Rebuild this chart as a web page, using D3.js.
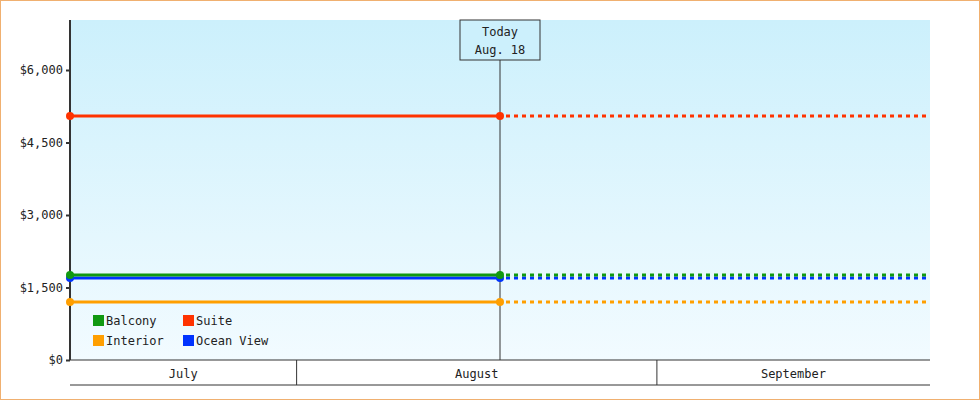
<!DOCTYPE html>
<html>
<head>
<script src="https://cdn.jsdelivr.net/npm/d3@7/dist/d3.min.js"></script>
<style>
body { margin:0; }
text { font-family: "DejaVu Sans Mono", monospace; font-size:12px; fill:#222; }
</style>
</head>
<body>
<script>
var seriesNames = ["Balcony", "Suite", "Interior", "Ocean View"];
var seriesColors = ["#119911", "#ff3300", "#ff9f00", "#0033ff"];
var seriesValues = [1759, 5049, 1200, 1697];
var startDate = new Date(2024, 6, 12, 12), todayDate = new Date(2024, 7, 18, 12), endDate = new Date(2024, 8, 24, 12);
var monthNames = ["July", "August", "September"];
var monthStarts = [new Date(2024, 6, 12, 12), new Date(2024, 7, 1), new Date(2024, 8, 1), new Date(2024, 8, 24, 12)];
var yTicks = [0, 1500, 3000, 4500, 6000];

var W = 980, H = 400, L = 70, R = 930, T = 20, B = 360;
var svg = d3.select("body").append("svg").attr("width", W).attr("height", H);
svg.append("rect").attr("x", 0.5).attr("y", 0.5).attr("width", W - 1).attr("height", H - 1)
  .attr("fill", "white").attr("stroke", "#f0b070");

var grad = svg.append("defs").append("linearGradient").attr("id", "bg").attr("x1", 0).attr("y1", 0).attr("x2", 0).attr("y2", 1);
grad.append("stop").attr("offset", "0%").attr("stop-color", "#ccf0fc");
grad.append("stop").attr("offset", "100%").attr("stop-color", "#f2fbff");

var x = d3.scaleTime().domain([startDate, endDate]).range([L, R]);
var y = d3.scaleLinear().domain([0, 6000]).range([B, 70]);

svg.append("rect").attr("x", L).attr("y", T).attr("width", R - L).attr("height", B - T).attr("fill", "url(#bg)");

// y axis
var ya = svg.append("g").attr("transform", "translate(" + L + ",0)")
  .call(d3.axisLeft(y).tickValues(yTicks).tickSize(4).tickFormat(function(d){ return "$" + d3.format(",")(d); }));
ya.select(".domain").remove();
ya.selectAll("line").attr("stroke", "#333").attr("stroke-width", 2);
ya.selectAll("text").style("font-family", "DejaVu Sans Mono").style("font-size", "12px").attr("fill", "#222");
svg.append("line").attr("x1", L).attr("x2", L).attr("y1", T).attr("y2", B).attr("stroke", "#333").attr("stroke-width", 2);

// month bands
svg.append("line").attr("x1", L).attr("x2", R).attr("y1", B).attr("y2", B).attr("stroke", "#333");
svg.append("line").attr("x1", L).attr("x2", R).attr("y1", 385).attr("y2", 385).attr("stroke", "#333");
monthNames.forEach(function(m, i) {
  var x0 = x(monthStarts[i]), x1 = x(monthStarts[i + 1]);
  if (i > 0) svg.append("line").attr("x1", x0).attr("x2", x0).attr("y1", B).attr("y2", 385).attr("stroke", "#333");
  svg.append("text").attr("x", (x0 + x1) / 2).attr("y", 378).attr("text-anchor", "middle").text(m);
});

// today line
var tx = x(todayDate);
svg.append("line").attr("x1", tx).attr("x2", tx).attr("y1", 60).attr("y2", B).attr("stroke", "#333");
svg.append("rect").attr("x", tx - 40).attr("y", 20).attr("width", 80).attr("height", 40).attr("fill", "#ccf0fc").attr("stroke", "#333");
svg.append("text").attr("x", tx).attr("y", 36).attr("text-anchor", "middle").text("Today");
svg.append("text").attr("x", tx).attr("y", 54).attr("text-anchor", "middle").text("Aug. 18");

// series (draw in order so balcony sits above ocean view)
var order = [2, 3, 1, 0];
order.forEach(function(i) {
  var v = y(seriesValues[i]), c = seriesColors[i];
  svg.append("line").attr("x1", x(startDate)).attr("x2", tx).attr("y1", v).attr("y2", v).attr("stroke", c).attr("stroke-width", 3);
  svg.append("line").attr("x1", tx).attr("x2", x(endDate)).attr("y1", v).attr("y2", v).attr("stroke", c).attr("stroke-width", 3).attr("stroke-dasharray", "4,4").attr("stroke-dashoffset", -6);
  [startDate, todayDate].forEach(function(d) {
    svg.append("circle").attr("cx", x(d)).attr("cy", v).attr("r", 4).attr("fill", c);
  });
});

// legend
seriesNames.forEach(function(n, i) {
  var lx = 93 + (i % 2) * 90, ly = 315 + Math.floor(i / 2) * 20;
  svg.append("rect").attr("x", lx).attr("y", ly).attr("width", 11).attr("height", 11).attr("fill", seriesColors[i]);
  svg.append("text").attr("x", lx + 13).attr("y", ly + 10).text(n);
});
</script>
</body>
</html>
